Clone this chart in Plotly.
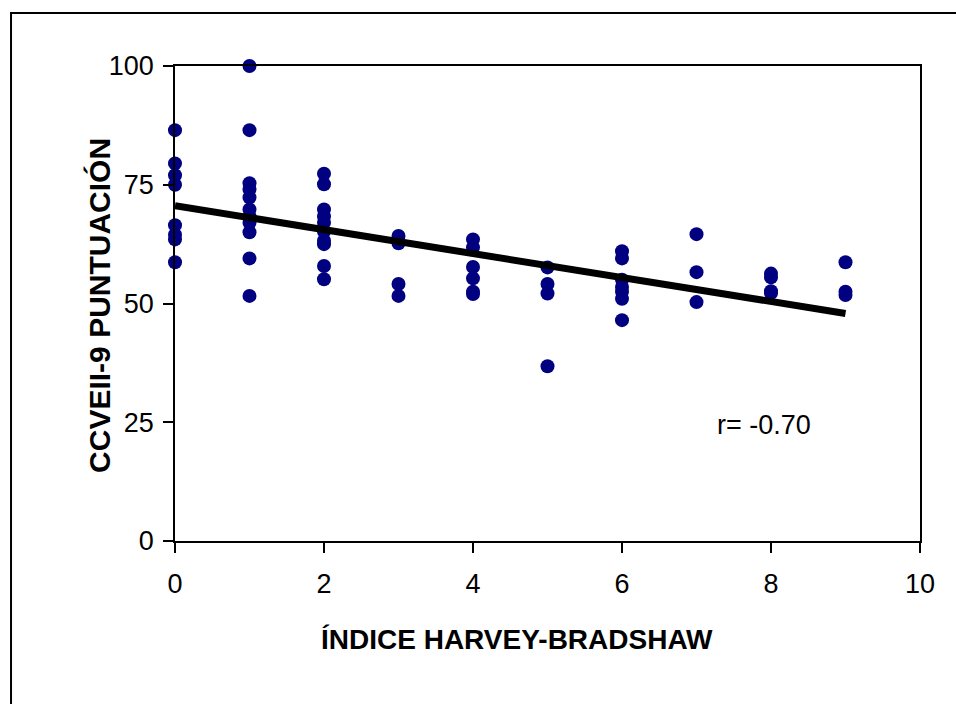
import plotly.graph_objects as go

# Harvey-Bradshaw index (x) and CCVEII-9 score (y)
hb_0 = [86.5, 79.5, 77, 75, 66.5, 64.5, 63.5, 58.7]
hb_1 = [100, 86.5, 75.3, 74, 72.3, 69.8, 68.3, 67, 65, 59.5, 51.6]
hb_2 = [77.3, 75.1, 69.8, 68.3, 67, 65.1, 63.2, 62.5, 57.9, 55.1]
hb_3 = [64.2, 62.7, 54.1, 51.6]
hb_4 = [63.5, 61.8, 57.7, 55.3, 52.5, 52]
hb_5 = [57.6, 54.1, 52.1, 36.8]
hb_6 = [61, 59.5, 55, 53.5, 52.5, 51, 46.5]
hb_7 = [64.6, 56.6, 50.3]
hb_8 = [56.3, 55.5, 52.6, 52.2]
hb_9 = [58.7, 52.5, 51.8]

groups = [hb_0, hb_1, hb_2, hb_3, hb_4, hb_5, hb_6, hb_7, hb_8, hb_9]
xs = [i for i, g in enumerate(groups) for _ in g]
ys = [v for g in groups for v in g]

trend_x = [0, 9]
trend_y = [70.6, 47.9]

x_ticks = [0, 2, 4, 6, 8, 10]
y_ticks = [0, 25, 50, 75, 100]

FONT = "Liberation Sans, Arial, sans-serif"

fig = go.Figure()
fig.add_trace(go.Scatter(x=xs, y=ys, mode="markers",
                         marker=dict(color="#000080", size=14, line=dict(width=0)),
                         cliponaxis=False, showlegend=False))
fig.add_trace(go.Scatter(x=trend_x, y=trend_y, mode="lines",
                         line=dict(color="black", width=7),
                         cliponaxis=False, showlegend=False))

fig.update_layout(
    width=956, height=704,
    margin=dict(l=175, r=36, t=66, b=163),
    paper_bgcolor="white", plot_bgcolor="white",
    font=dict(family=FONT, size=27, color="black"),
    showlegend=False,
    xaxis=dict(range=[0, 10], tickvals=x_ticks, ticks="outside", ticklen=10,
               tickwidth=1.5, tickcolor="black", showline=True, linecolor="black",
               linewidth=1.5, mirror=True, showgrid=False, zeroline=False,
               tickfont=dict(size=27), ticklabelstandoff=8),
    yaxis=dict(range=[0, 100], tickvals=y_ticks, ticks="outside", ticklen=10,
               tickwidth=1.5, tickcolor="black", showline=True, linecolor="black",
               linewidth=1.5, mirror=True, showgrid=False, zeroline=False,
               tickfont=dict(size=27), ticklabelstandoff=4),
    annotations=[
        dict(text="<b>ÍNDICE HARVEY-BRADSHAW</b>", xref="paper", yref="paper",
             x=0.459, y=-0.2084, showarrow=False, font=dict(size=28),
             xanchor="center", yanchor="middle"),
        dict(text="<b>CCVEII-9 PUNTUACIÓN</b>", xref="paper", yref="paper",
             x=-0.1007, y=0.497, textangle=-90, showarrow=False, font=dict(size=30),
             xanchor="center", yanchor="middle"),
        dict(text="r= -0.70", xref="x", yref="y", x=7.9, y=24.4,
             showarrow=False, font=dict(size=27), xanchor="center", yanchor="middle"),
    ],
    shapes=[
        dict(type="rect", xref="paper", yref="paper",
             x0=-0.2201, x1=1.2, y0=-0.5, y1=1.1116,
             line=dict(color="black", width=2), fillcolor="rgba(0,0,0,0)"),
    ],
)

fig.write_html("out.html")
